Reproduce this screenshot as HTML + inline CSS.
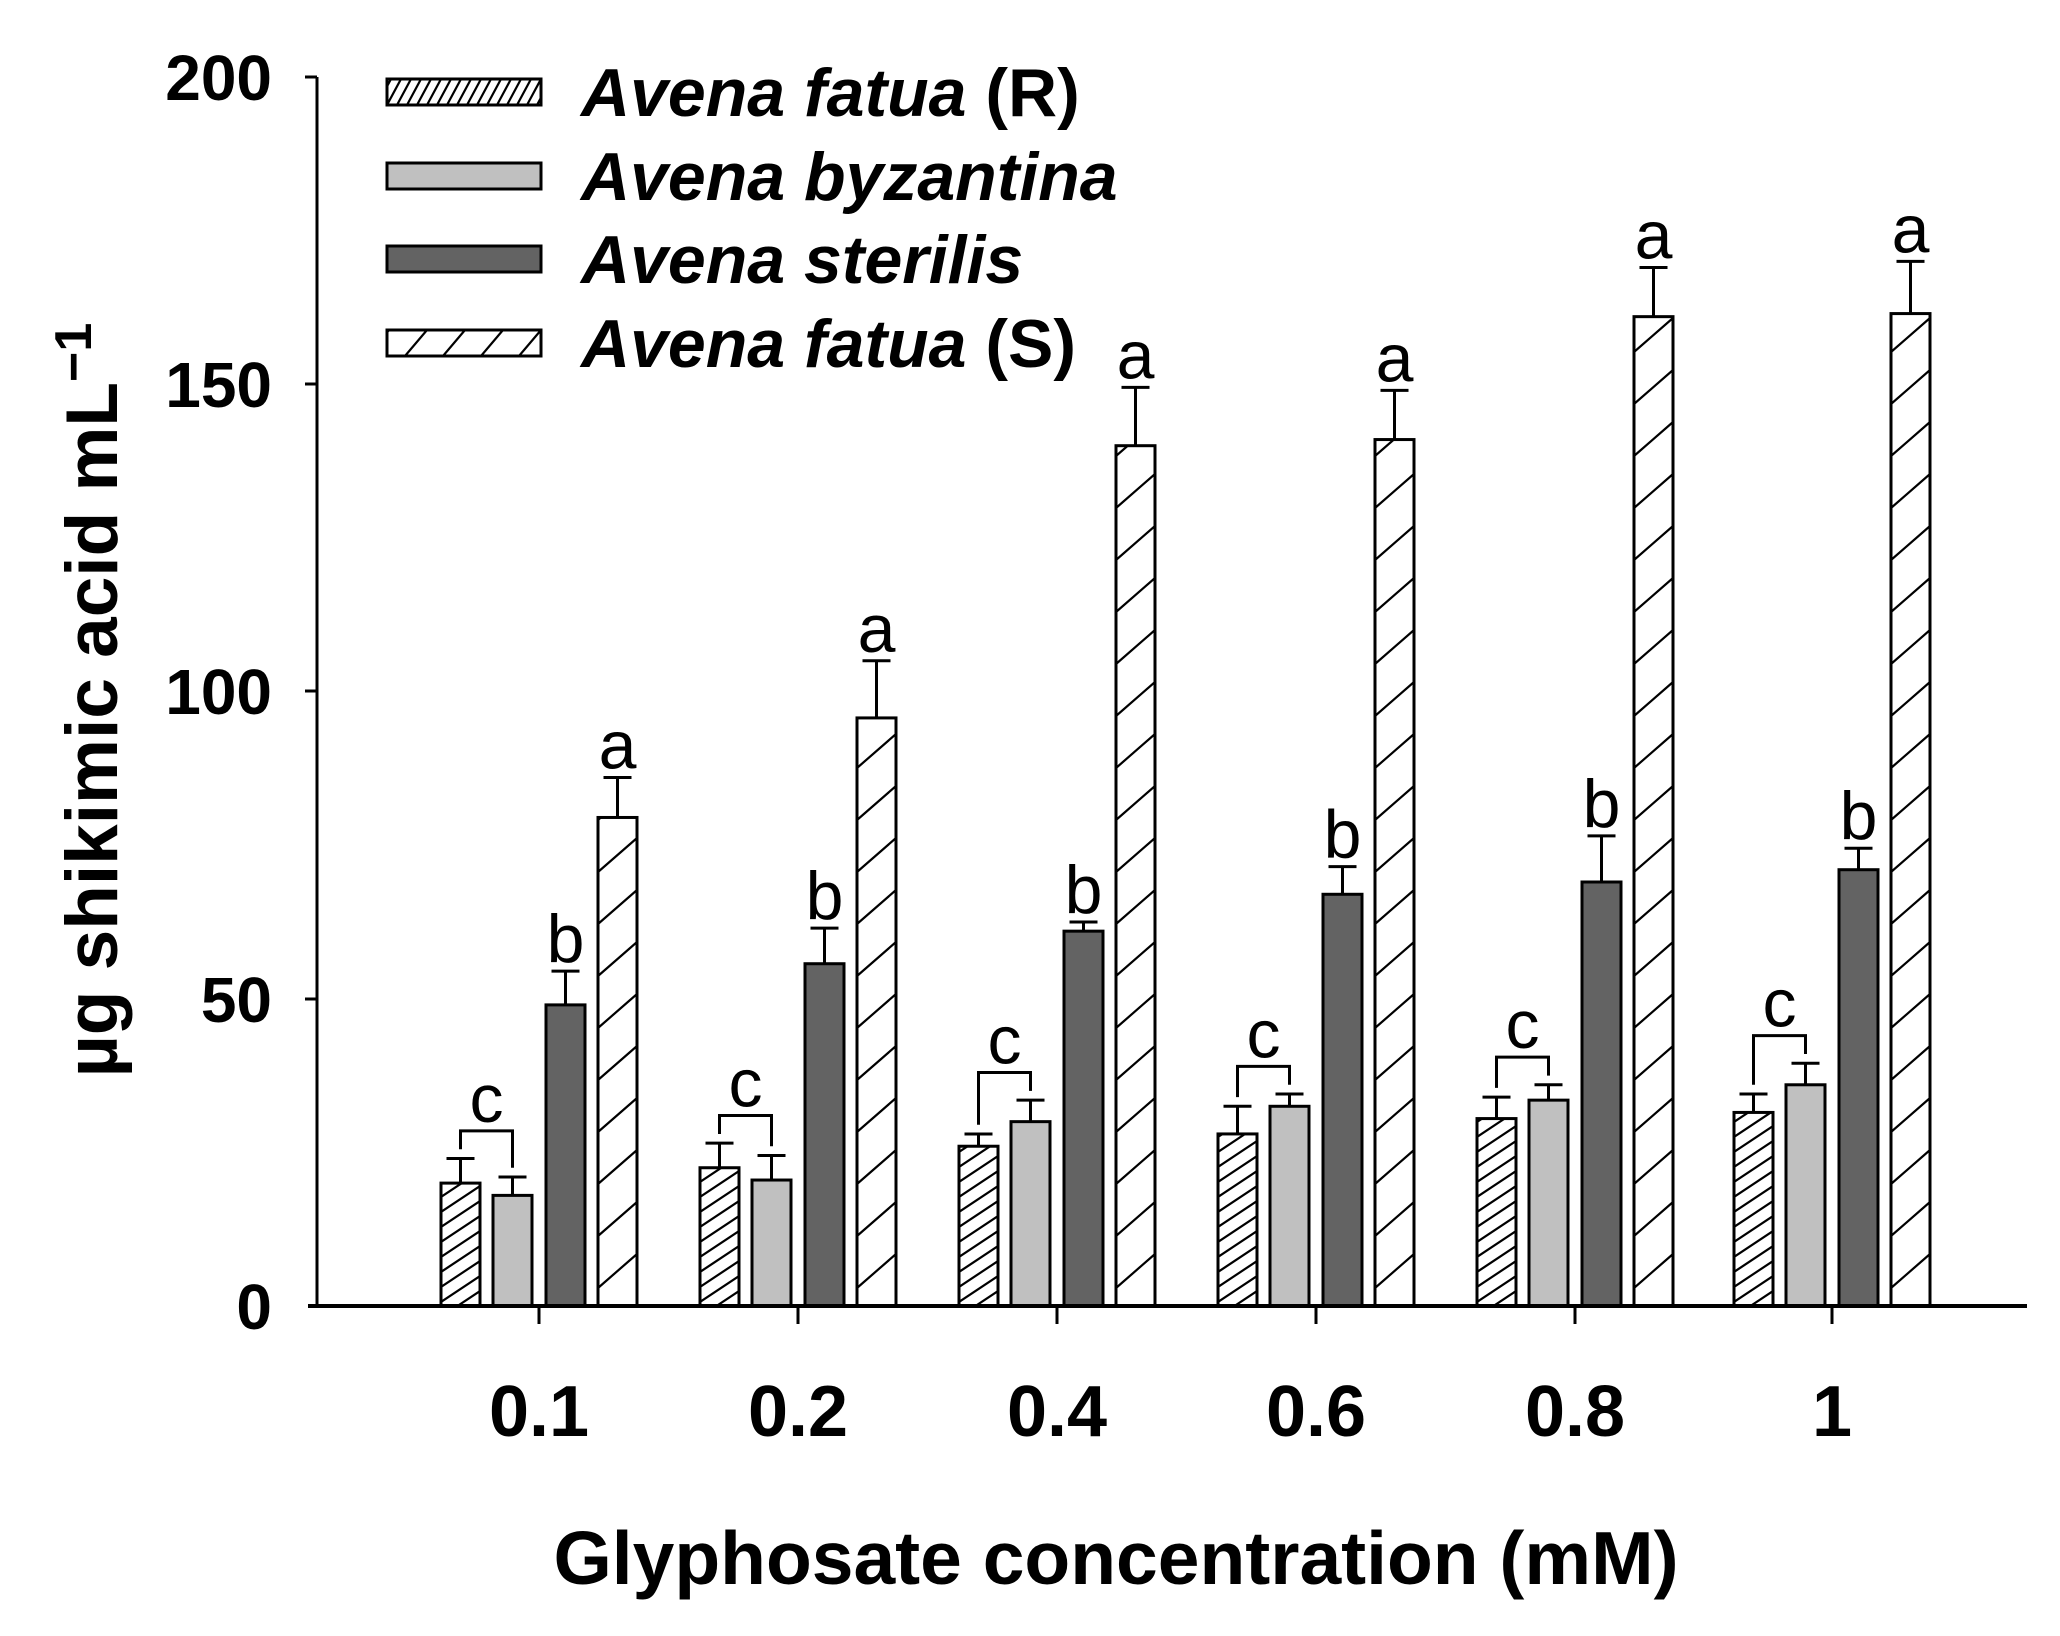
<!DOCTYPE html>
<html><head><meta charset="utf-8"><style>
html,body{margin:0;padding:0;background:#fff}
svg{display:block}
text{font-family:"Liberation Sans",Arial,sans-serif}
</style></head><body>
<svg id="s" width="2060" height="1636" viewBox="0 0 2060 1636" xmlns="http://www.w3.org/2000/svg">
<rect width="2060" height="1636" fill="#fff"/>
<g id="g"></g>
<line x1="317" y1="77" x2="317" y2="1306" stroke="#000" stroke-width="3"/>
<line x1="308" y1="1306" x2="2027" y2="1306" stroke="#000" stroke-width="4"/>
<g stroke="#000" stroke-width="3">
<line x1="305" y1="77" x2="317" y2="77"/><line x1="305" y1="384" x2="317" y2="384"/>
<line x1="305" y1="691" x2="317" y2="691"/><line x1="305" y1="999" x2="317" y2="999"/>
</g>
<g font-size="64" font-weight="bold" text-anchor="end">
<text x="272" y="100">200</text><text x="272" y="407">150</text>
<text x="272" y="714">100</text><text x="272" y="1022">50</text><text x="272" y="1329">0</text>
</g>
<g font-size="72" font-weight="bold" text-anchor="middle">
<text x="539" y="1436">0.1</text><text x="798" y="1436">0.2</text><text x="1057" y="1436">0.4</text>
<text x="1316" y="1436">0.6</text><text x="1575" y="1436">0.8</text><text x="1832" y="1436">1</text>
</g>
<text x="1116" y="1584" font-size="75" font-weight="bold" text-anchor="middle">Glyphosate concentration (mM)</text>
<text transform="translate(117,700) rotate(-90)" font-size="73" font-weight="bold" text-anchor="middle">µg shikimic acid mL<tspan dy="-26" font-size="52">−1</tspan></text>
<g font-size="68" font-weight="bold" font-style="italic">
<text x="581" y="116">Avena fatua <tspan font-style="normal">(R)</tspan></text>
<text x="581" y="200">Avena byzantina</text>
<text x="581" y="283">Avena sterilis</text>
<text x="581" y="367">Avena fatua <tspan font-style="normal">(S)</tspan></text>
</g>
</svg>
<script>
var NS="http://www.w3.org/2000/svg",g=document.getElementById('g');
function el(t,a){var e=document.createElementNS(NS,t);for(var k in a)e.setAttribute(k,a[k]);g.appendChild(e);return e;}
var Y0=1306,K=6.145;function Y(v){return Y0-v*K;}
var cid=0;
function hatch(x,y,w,h,period,rise){
 cid++;var cp=document.createElementNS(NS,'clipPath');cp.setAttribute('id','c'+cid);
 var r=document.createElementNS(NS,'rect');r.setAttribute('x',x);r.setAttribute('y',y);r.setAttribute('width',w);r.setAttribute('height',h);cp.appendChild(r);g.appendChild(cp);
 var d='';for(var yy=y+h+rise;yy>y-period;yy-=period){d+='M'+x+' '+yy+'L'+(x+w)+' '+(yy-rise);}
 el('path',{d:d,stroke:'#000','stroke-width':2.2,fill:'none','clip-path':'url(#c'+cid+')'});
}
function bar(x,w,v,type){
 var y=Y(v),h=Y0-y;
 if(type==1)el('rect',{x:x,y:y,width:w,height:h,fill:'#c0c0c0'});
 else if(type==2)el('rect',{x:x,y:y,width:w,height:h,fill:'#636363'});
 else{el('rect',{x:x,y:y,width:w,height:h,fill:'#fff'});
  if(type==0)hatch(x,y,w,h,15,26);else hatch(x,y,w,h,52,34);}
 el('rect',{x:x,y:y,width:w,height:h,fill:'none',stroke:'#000','stroke-width':3});
}
function err(cx,v,e){el('path',{d:'M'+cx+' '+Y(v)+'V'+Y(e)+'M'+(cx-14)+' '+Y(e)+'H'+(cx+14),stroke:'#000','stroke-width':3,fill:'none'});}
function txt(x,y,s){var t=el('text',{x:x,y:y,'font-size':68,'text-anchor':'middle','font-family':'"DejaVu Sans",sans-serif'});t.textContent=s;}
var C=[539,798,1057,1316,1575,1832];
var D=[[20,24,18,21,49,54.5,79.5,86],[22.5,26.5,20.5,24.5,55.7,61.5,95.7,105],[26,28,30,33.5,61,62.5,140,149.5],
[28,32.5,32.5,34.5,67,71.5,141,149],[30.5,34,33.5,36,69,76.5,161,169],[31.5,34.5,36,39.5,71,74.5,161.5,170]];
var off=[-98,-46,7,59],W=39;
C.forEach(function(c,i){var d=D[i];
 for(var j=0;j<4;j++){var x=c+off[j];bar(x,W,d[2*j],j);err(x+W/2,d[2*j],d[2*j+1]);}
 el('line',{x1:c,y1:Y0,x2:c,y2:Y0+18,stroke:'#000','stroke-width':3});
 var a=c+off[0]+W/2,b=c+off[1]+W/2,top=Math.max(d[1],d[3])+4.5;
 el('path',{d:'M'+a+' '+Y(d[1]+1.5)+'V'+Y(top)+'H'+b+'V'+Y(d[3]+1.5),stroke:'#000','stroke-width':3,fill:'none'});
 txt((a+b)/2,Y(top)-9,'c');
 txt(c+off[2]+W/2,Y(d[5])-9,'b');
 txt(c+off[3]+W/2,Y(d[7])-9,'a');
});
[[92,0],[176,1],[259,2],[343,3]].forEach(function(p){bar_leg(387,p[0]-13,154,26,p[1]);});
function bar_leg(x,y,w,h,t){
 if(t==1)el('rect',{x:x,y:y,width:w,height:h,fill:'#c0c0c0'});
 else if(t==2)el('rect',{x:x,y:y,width:w,height:h,fill:'#636363'});
 else{el('rect',{x:x,y:y,width:w,height:h,fill:'#fff'});
  cid++;var cp=document.createElementNS(NS,'clipPath');cp.setAttribute('id','c'+cid);
  var r=document.createElementNS(NS,'rect');r.setAttribute('x',x);r.setAttribute('y',y);r.setAttribute('width',w);r.setAttribute('height',h);cp.appendChild(r);g.appendChild(cp);
  var per=t==0?10:38,dd='';for(var xx=x-20;xx<x+w+20;xx+=per)dd+='M'+xx+' '+(y+h)+'L'+(xx+(t==0?14:22))+' '+y;
  el('path',{d:dd,stroke:'#000','stroke-width':2.2,fill:'none','clip-path':'url(#c'+cid+')'});}
 el('rect',{x:x,y:y,width:w,height:h,fill:'none',stroke:'#000','stroke-width':3});
}
</script>
</body></html>
